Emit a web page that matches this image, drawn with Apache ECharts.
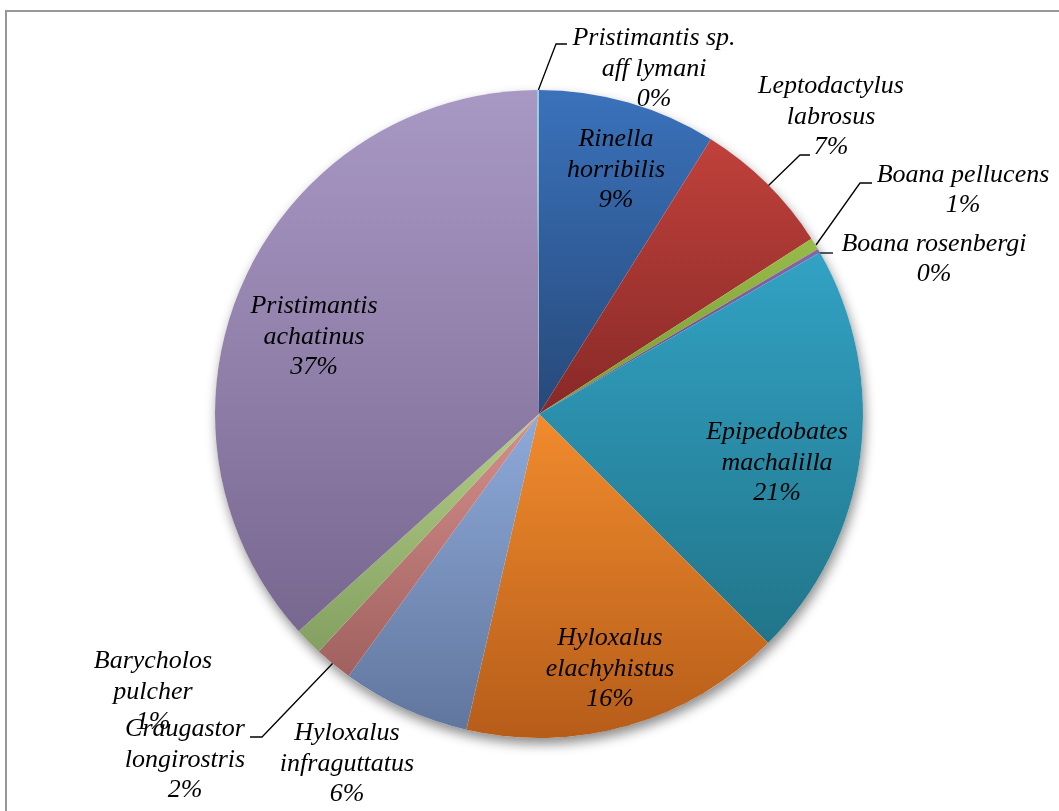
<!DOCTYPE html>
<html>
<head>
<meta charset="utf-8">
<script src="https://cdn.jsdelivr.net/npm/echarts@6/dist/echarts.min.js"></script>
<style>
html,body{margin:0;padding:0;background:#fff;}
#chart{width:1059px;height:811px;}
</style>
</head>
<body>
<div id="chart"></div>
<script>
// Species (categories), in clockwise order from 12 o'clock
const species = [
  "Rinella\nhorribilis",
  "Leptodactylus\nlabrosus",
  "Boana pellucens",
  "Boana rosenbergi",
  "Epipedobates\nmachalilla",
  "Hyloxalus\nelachyhistus",
  "Hyloxalus\ninfraguttatus",
  "Craugastor\nlongirostris",
  "Barycholos\npulcher",
  "Pristimantis\nachatinus",
  "Pristimantis sp.\naff lymani"
];
// Share of each species (%)
const shares = [8.9, 7.0, 0.6, 0.2, 20.8, 16.1, 6.4, 1.9, 1.4, 36.6, 0.1];

// Styling (kept separate from data)
const topColors    = ["#3a72bb","#c0413b","#97bb48","#8567a8","#32a2c4","#f18b2d","#8eaada","#d58f8c","#b3ce86","#a898c4","#9ad0de"];
const bottomColors = ["#27497a","#872927","#7a9934","#5f4880","#21758a","#b65d1a","#61769d","#a0615f","#84a061","#786890","#6fa4b3"];
const labelPos = [
  [616,170],[831,117],[963,190],[934,259],[777,463],[610,669],
  [347,764],[185,760],[153,692],[314,337],[654,69]
];
const leaderLines = {
  1: [[768,186],[800,155],[810,155]],
  2: [[816,245],[860,183],[872,183]],
  3: [[818,253],[826,253],[833,253]],
  7: [[333,663],[262,737],[250,737]],
  10: [[538,91],[556,44],[567,44]]
};

const chart = echarts.init(document.getElementById('chart'), null, {renderer:'canvas'});
const data = species.map((n,i)=>({
  name: n,
  value: shares[i],
  itemStyle: {
    color: new echarts.graphic.LinearGradient(0,0,0,1,[
      {offset:0,color:topColors[i]},{offset:1,color:bottomColors[i]}
    ])
  },
  labelLine: {show: !!leaderLines[i]}
}));

chart.setOption({
  animation:false,
  backgroundColor:'#ffffff',
  graphic:[{
    type:'rect', silent:true, z:-10,
    shape:{x:6,y:11,width:1200,height:1000},
    style:{fill:'none',stroke:'#979797',lineWidth:2}
  }],
  series:[
    {
      type:'pie', silent:true, z:1,
      center:[539,414], radius:324,
      label:{show:false}, labelLine:{show:false},
      itemStyle:{color:'#ffffff',shadowBlur:12,shadowOffsetX:2,shadowOffsetY:6,shadowColor:'rgba(0,0,0,0.45)'},
      data:[{value:1,name:'bg'}]
    },
    {
      type:'pie', z:2,
      center:[539,414], radius:324,
      startAngle:90, clockwise:true,
      avoidLabelOverlap:false,
      minShowLabelAngle:0,
      itemStyle:{borderWidth:0},
      label:{
        show:true, position:'outside',
        fontFamily:'"Liberation Serif","Times New Roman",serif',
        fontStyle:'italic', fontSize:26, lineHeight:30.5, color:'#000',
        align:'center',
        formatter: p => p.name + '\n' + Math.round(p.percent) + '%'
      },
      labelLine:{show:true, length:10, length2:10, lineStyle:{color:'#000',width:1.3}},
      labelLayout: function(params){
        const i = params.dataIndex;
        const o = {x:labelPos[i][0], y:labelPos[i][1], align:'center', verticalAlign:'middle'};
        if (leaderLines[i]) o.labelLinePoints = leaderLines[i];
        return o;
      },
      data:data
    }
  ]
});
</script>
</body>
</html>
